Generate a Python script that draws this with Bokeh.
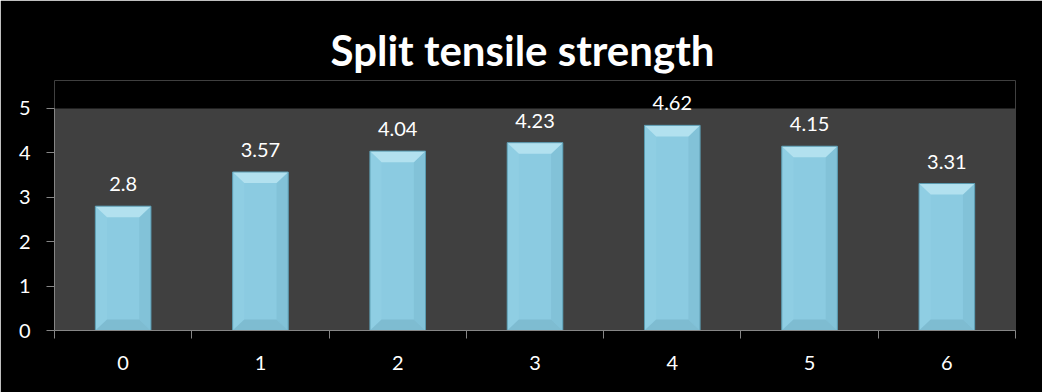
from bokeh.plotting import figure
from bokeh.models import Range1d, FixedTicker, BoxAnnotation, ColumnDataSource
from bokeh.embed import file_html
from bokeh.resources import INLINE

# Split tensile strength per mix
categories = ["0", "1", "2", "3", "4", "5", "6"]
strength = [2.8, 3.57, 4.04, 4.23, 4.62, 4.15, 3.31]
y_ticks = [0, 1, 2, 3, 4, 5]

FONT = "Lato"
AXIS_GREY = "#868686"

xs = list(range(len(categories)))
bar_w = 0.405

p = figure(width=1042, height=392, output_backend="svg", toolbar_location=None,
           x_range=Range1d(-0.5, len(categories) - 0.5), y_range=Range1d(0, 5.63),
           min_border_left=54, min_border_right=27, min_border_top=80, min_border_bottom=62)
p.background_fill_color = "black"
p.border_fill_color = "black"
p.outline_line_color = None
p.xgrid.visible = False
p.ygrid.visible = False

# plot area panel
p.add_layout(BoxAnnotation(bottom=0, top=y_ticks[-1], fill_color="#404040", fill_alpha=1,
                           line_color=None, level="underlay"))

# bevelled bars: face + four bevel facets
bx, by = 0.085, 0.25
top_xs, top_ys, left_xs, left_ys, right_xs, right_ys, bot_xs, bot_ys = ([] for _ in range(8))
for x, v in zip(xs, strength):
    l, r = x - bar_w / 2, x + bar_w / 2
    top_xs.append([l, r, r - bx, l + bx]); top_ys.append([v, v, v - by, v - by])
    left_xs.append([l, l + bx, l + bx, l]); left_ys.append([v, v - by, by, 0])
    right_xs.append([r, r - bx, r - bx, r]); right_ys.append([v, v - by, by, 0])
    bot_xs.append([l, r, r - bx, l + bx]); bot_ys.append([0, 0, by, by])

p.vbar(x=xs, top=strength, width=bar_w, fill_color="#8BCBE1", line_color=None)
p.patches(left_xs, left_ys, fill_color="#8FCEE3", line_color=None)
p.patches(right_xs, right_ys, fill_color="#82C2D8", line_color=None)
p.patches(bot_xs, bot_ys, fill_color="#7EBCD1", line_color=None)
p.patches(top_xs, top_ys, fill_color="#B2E1EF", line_color=None)
p.vbar(x=xs, top=strength, width=bar_w, fill_color=None, line_color="#5A9AAF", line_width=1)

# value labels
src = ColumnDataSource(dict(x=xs, y=strength, label=[f"{v:g}" for v in strength]))
p.text(x="x", y="y", text="label", source=src, text_align="center", text_baseline="alphabetic",
       y_offset=-22, text_color="white", text_font_size="20px", text_font={"value": FONT})

# axes
p.xaxis.ticker = FixedTicker(ticks=xs, minor_ticks=[x - 0.5 for x in range(len(categories) + 1)])
p.xaxis.major_label_overrides = {x: c for x, c in zip(xs, categories)}
p.xaxis.major_tick_line_color = None
p.xaxis.major_tick_out = 0
p.xaxis.minor_tick_line_color = AXIS_GREY
p.xaxis.minor_tick_out = 8
p.xaxis.minor_tick_in = 0
p.xaxis.major_label_standoff = 17

p.yaxis.ticker = FixedTicker(ticks=y_ticks, minor_ticks=[])
p.yaxis.bounds = (y_ticks[0], y_ticks[-1])
p.yaxis.major_tick_line_color = AXIS_GREY
p.yaxis.major_tick_out = 8
p.yaxis.major_tick_in = 0
p.yaxis.major_label_standoff = 16

for ax in (p.xaxis, p.yaxis):
    ax.axis_line_color = AXIS_GREY
    ax.major_label_text_color = "white"
    ax.major_label_text_font = FONT
    ax.major_label_text_font_size = "20px"

p.title.text = "Split tensile  strength"
p.title.align = "left"
p.title.offset = 276
p.title.standoff = 12
p.title.text_color = "white"
p.title.text_font = FONT
p.title.text_font_style = "bold"
p.title.text_font_size = "42px"

open("out.html", "w").write(file_html(p, INLINE))
